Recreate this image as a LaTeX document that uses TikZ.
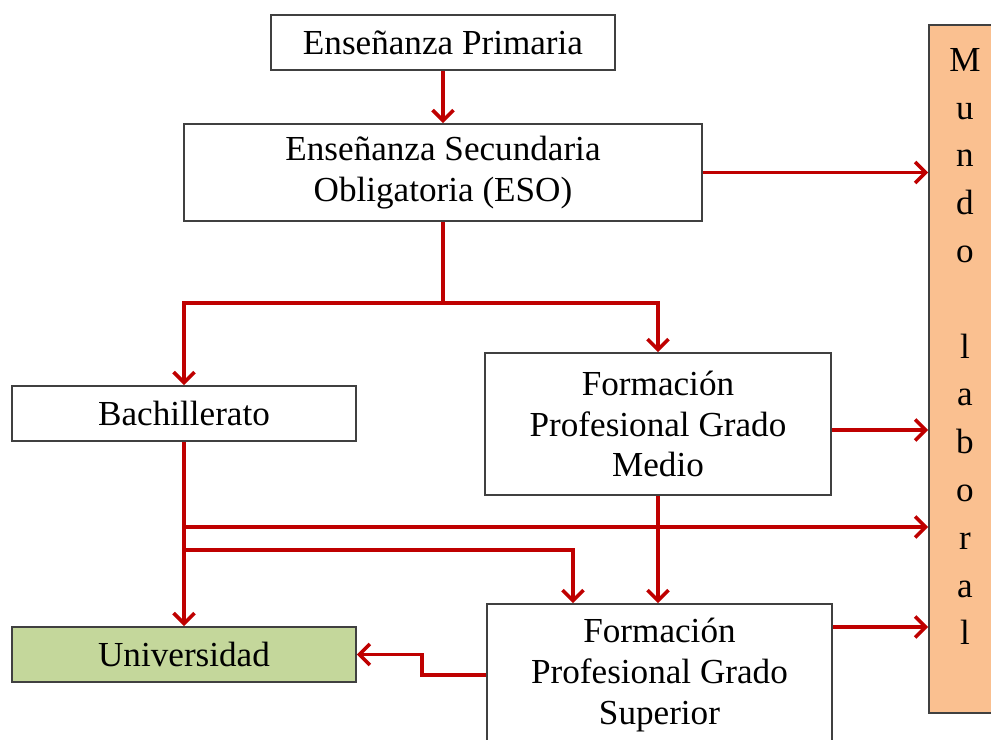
\documentclass[tikz,border=0pt]{standalone}
\usepackage{fontspec}
\setmainfont{Liberation Serif}
\usetikzlibrary{arrows.meta}

\tikzset{
  caja/.style={draw=black!75, line width=0.9pt, fill=white, inner sep=0pt,
    align=center, font=\fontsize{20}{23.3}\selectfont},
  flecha/.style={draw=red!75!black, line width=2.1pt,
    -{Straight Barb[length=6pt,width=12pt,line width=2.1pt]}},
  linea/.style={draw=red!75!black, line width=2.1pt}
}
\definecolor{verdeuni}{HTML}{C4D79B}
\definecolor{naranja}{HTML}{FAC090}

\begin{document}
\begin{tikzpicture}[x=0.02cm, y={(0cm,-0.02cm)}]
            \useasboundingbox (0,0) rectangle (991,740);

            %cajas
            \node[caja, minimum width=6.88cm, minimum height=1.1cm] (prim) at (443,42.5) {Enseñanza Primaria};
            \node[caja, minimum width=10.36cm, minimum height=1.94cm] (eso) at (443,172.5) {Enseñanza Secundaria\\Obligatoria (ESO)};
            \node[caja, minimum width=6.88cm, minimum height=1.1cm] (bach) at (184,413.5) {Bachillerato};
            \node[caja, minimum width=6.92cm, minimum height=2.84cm] (fpm) at (658,424) {Formación\\Profesional Grado\\Medio};
            \node[caja, fill=verdeuni, minimum width=6.88cm, minimum height=1.1cm] (univ) at (184,654.5) {Universidad};
            \node[caja, minimum width=6.9cm, minimum height=2.84cm] (fps) at (659.5,675) {Formación\\Profesional Grado\\Superior};

            %mundo laboral
            \node[caja, fill=naranja, minimum width=1.44cm, minimum height=13.76cm] (mundo) at (965,369) {};
            \node[align=center, inner sep=0pt, anchor=north,
              font=\fontsize{20}{27.2}\selectfont] (mundotxt) at (965,48)
              {M\\u\\n\\d\\o\\[0pt]~\\l\\a\\b\\o\\r\\a\\l};

            %flechas
            \draw[flecha] (prim.south) -- (eso.north);
            \draw[flecha] (eso.east) -- (eso.east -| mundo.west);
            \draw[linea] (eso.south) -- ++(0,81) coordinate (rep);
            \draw[flecha] (rep) -| (bach.north);
            \draw[flecha] (rep) -| (fpm.north);
            \draw[flecha] (fpm.east |- 0,430) -- (mundo.west |- 0,430);

            %bachillerato
            \draw[flecha] (bach.south) -- (univ.north);
            \draw[flecha] (bach.south |- 0,527) -- (mundo.west |- 0,527);
            \draw[flecha] (bach.south |- 0,550) -| (fps.north -| 573,0);

            %fp superior
            \draw[flecha] (fpm.south) -- (fps.north -| fpm.south);
            \draw[flecha] (fps.east |- 0,627) -- (mundo.west |- 0,627);
            \draw[flecha] (fps.west) -- ++(-64,0) |- (univ.east);
        \end{tikzpicture}
\end{document}
